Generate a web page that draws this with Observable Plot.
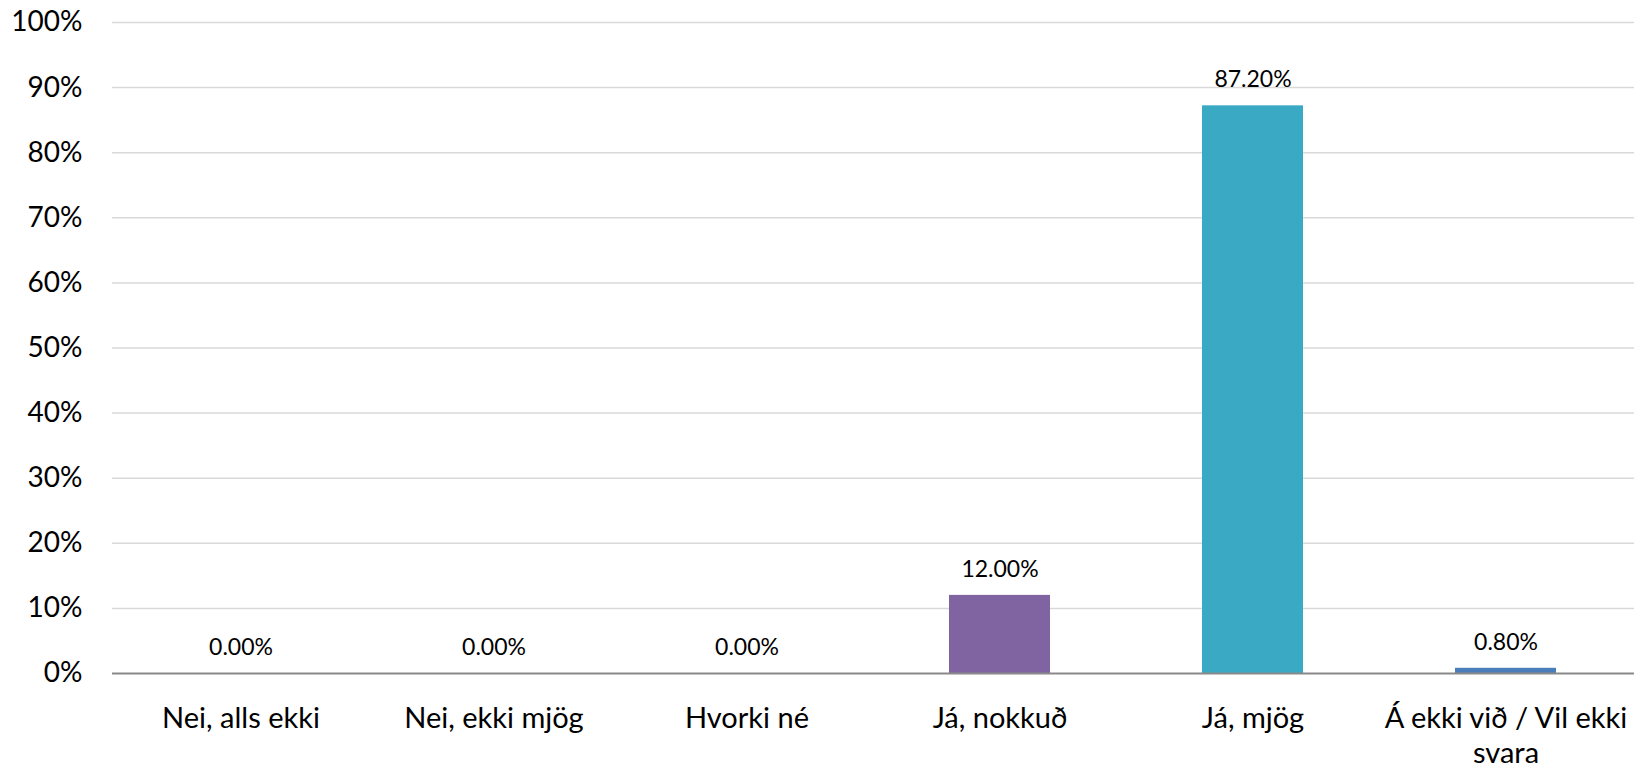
<!DOCTYPE html>
<html>
<head>
<meta charset="utf-8">
<script src="https://cdn.jsdelivr.net/npm/d3@7"></script>
<script src="https://cdn.jsdelivr.net/npm/@observablehq/plot@0.6"></script>
<style>
  html, body { margin: 0; padding: 0; background: #fff; overflow: hidden; }
  #chart svg { display: block; }
</style>
</head>
<body>
<div id="chart"></div>
<script>
// Data
const categories = ["Nei, alls ekki", "Nei, ekki mjög", "Hvorki né", "Já, nokkuð", "Já, mjög", "Á ekki við / Vil ekki svara"];
const values = [0, 0, 0, 0.12, 0.872, 0.008];
const yTicks = [0, 0.1, 0.2, 0.3, 0.4, 0.5, 0.6, 0.7, 0.8, 0.9, 1.0];
const barColors = ["#4F81BD", "#C0504D", "#9BBB59", "#8064A2", "#3AAAC4", "#4A7EBB"];

const data = categories.map((c, i) => ({category: c, value: values[i]}));
const wrapLabel = d => d === "Á ekki við / Vil ekki svara" ? "Á ekki við / Vil ekki\nsvara" : d;

const chart = Plot.plot({
  width: 1637,
  height: 768,
  marginLeft: 112,
  marginRight: 3,
  marginTop: 22,
  marginBottom: 95,
  style: {fontFamily: "Lato, sans-serif", fontSize: "28px", color: "#000", background: "#fff"},
  x: {domain: categories, paddingInner: 0.6, paddingOuter: 0.3, label: null},
  y: {domain: [0, 1], label: null},
  color: {domain: categories, range: barColors},
  marks: [
    Plot.ruleY(yTicks.filter(d => d > 0), {stroke: "#d9d9d9", strokeWidth: 1.5}),
    Plot.barY(data, {x: "category", y: "value", fill: "category"}),
    Plot.ruleY([0], {stroke: "#898989", strokeWidth: 2}),
    Plot.text(data, {x: "category", y: "value", text: d => d3.format(".2%")(d.value), dy: -26, fontSize: 23, fill: "#000"}),
    Plot.axisY({ticks: yTicks, tickFormat: d3.format(".0%"), tickSize: 0, tickPadding: 30, label: null, fontSize: 28, fill: "#000"}),
    Plot.axisX({tickFormat: wrapLabel, tickSize: 0, tickPadding: 30, label: null, fontSize: 29, lineHeight: 1.2, fill: "#000"})
  ]
});
document.getElementById("chart").appendChild(chart);
</script>
</body>
</html>
